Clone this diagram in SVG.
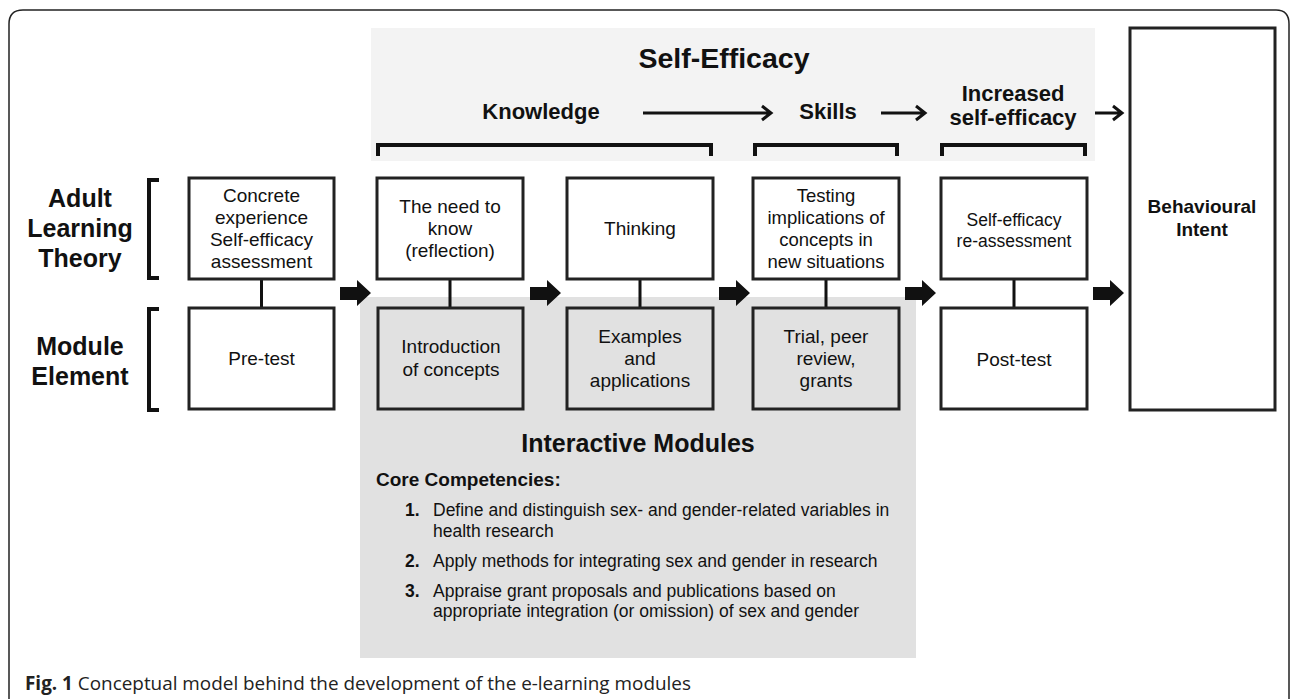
<svg xmlns="http://www.w3.org/2000/svg" width="1290" height="699" viewBox="0 0 1290 699">
<style>
text{font-family:"Liberation Sans",Arial,sans-serif;fill:#111}
.b{font-weight:bold}
.m{text-anchor:middle}
.box{stroke:#222;stroke-width:3;fill:#fff}
.gbox{stroke:#222;stroke-width:3;fill:#e1e1e1}
.br{fill:none;stroke:#111;stroke-width:4}
.ln{fill:none;stroke:#111;stroke-width:3}
.blk{fill:#111}
.t19{font-size:19px}
.h{font-size:22px}
</style>
<rect x="0" y="0" width="1290" height="699" fill="#fff"/>
<path d="M9,699 V24 Q9,10 23,10 H1276 Q1289,10 1289,24 V699" fill="none" stroke="#222" stroke-width="1.5"/>
<rect x="371" y="28" width="724" height="133" fill="#f3f3f3"/>
<rect x="360" y="297" width="556" height="361" fill="#e1e1e1"/>

<g id="header">
<text x="724" y="68" class="b m" font-size="28.5">Self-Efficacy</text>
<text x="541" y="119" class="b m h">Knowledge</text>
<text x="828" y="119" class="b m h">Skills</text>
<text x="1013" y="101" class="b m h">Increased</text>
<text x="1013" y="125" class="b m h">self-efficacy</text>
<path class="br" d="M378,156 V145 H711 V156"/>
<path class="br" d="M755,156 V145 H897 V156"/>
<path class="br" d="M942,156 V145 H1085 V156"/>
</g>

<g id="row-labels">
<text x="80" y="207" class="b m" font-size="25">Adult</text>
<text x="80" y="237" class="b m" font-size="25">Learning</text>
<text x="80" y="267" class="b m" font-size="25">Theory</text>
<text x="80" y="355" class="b m" font-size="25">Module</text>
<text x="80" y="385" class="b m" font-size="25">Element</text>
<path class="br" d="M159,180 H149 V278 H159"/>
<path class="br" d="M159,309 H149 V410 H159"/>
</g>

<g id="connectors">
<path class="ln" d="M643,113 H770 M762,106 L771,113 L762,120"/>
<path class="ln" d="M881,113 H924 M916,106 L925,113 L916,120"/>
<path class="ln" d="M1095,113 H1121 M1113,106 L1122,113 L1113,120"/>
<path class="ln" d="M261.5,279 V308 M450,279 V308 M640,279 V308 M826,279 V308 M1014,279 V308" stroke-width="2.5"/>
<path class="blk" d="M340,287 H357 V280 L371,293 L357,306 V300 H340 Z"/>
<path class="blk" d="M530,287 H547 V280 L561,293 L547,306 V300 H530 Z"/>
<path class="blk" d="M719,287 H736 V280 L750,293 L736,306 V300 H719 Z"/>
<path class="blk" d="M905,287 H922 V280 L936,293 L922,306 V300 H905 Z"/>
<path class="blk" d="M1093,287 H1110 V280 L1124,293 L1110,306 V300 H1093 Z"/>
</g>

<g id="n-concrete">
<rect class="box" x="189" y="178" width="145" height="101"/>
<text class="m t19" x="261.5" y="202">Concrete</text>
<text class="m t19" x="261.5" y="224">experience</text>
<text class="m t19" x="261.5" y="246">Self-efficacy</text>
<text class="m t19" x="261.5" y="268">assessment</text>
</g>
<g id="n-need">
<rect class="box" x="377" y="178" width="146" height="101"/>
<text class="m t19" x="450" y="213">The need to</text>
<text class="m t19" x="450" y="235">know</text>
<text class="m t19" x="450" y="257">(reflection)</text>
</g>
<g id="n-thinking">
<rect class="box" x="567" y="178" width="146" height="101"/>
<text class="m t19" x="640" y="235">Thinking</text>
</g>
<g id="n-testing">
<rect class="box" x="753" y="178" width="146" height="101"/>
<text class="m" font-size="18.5" x="826" y="202">Testing</text>
<text class="m" font-size="18.5" x="826" y="224">implications of</text>
<text class="m" font-size="18.5" x="826" y="246">concepts in</text>
<text class="m" font-size="18.5" x="826" y="268">new situations</text>
</g>
<g id="n-reassess">
<rect class="box" x="941" y="178" width="146" height="101"/>
<text class="m" font-size="17.5" x="1014" y="226">Self-efficacy</text>
<text class="m" font-size="17.5" x="1014" y="247">re-assessment</text>
</g>
<g id="n-behavioural">
<rect class="box" x="1130" y="28" width="145" height="382"/>
<text class="b m" font-size="19" x="1202" y="213">Behavioural</text>
<text class="b m" font-size="19" x="1202" y="236">Intent</text>
</g>

<g id="n-pretest">
<rect class="box" x="189" y="308" width="145" height="101"/>
<text class="m t19" x="261.5" y="365">Pre-test</text>
</g>
<g id="n-intro">
<rect class="gbox" x="378" y="308" width="145" height="101"/>
<text class="m t19" x="451" y="353">Introduction</text>
<text class="m t19" x="451" y="376">of concepts</text>
</g>
<g id="n-examples">
<rect class="gbox" x="567" y="308" width="146" height="101"/>
<text class="m t19" x="640" y="343">Examples</text>
<text class="m t19" x="640" y="365">and</text>
<text class="m t19" x="640" y="387">applications</text>
</g>
<g id="n-trial">
<rect class="gbox" x="753" y="308" width="146" height="101"/>
<text class="m t19" x="826" y="343">Trial, peer</text>
<text class="m t19" x="826" y="365">review,</text>
<text class="m t19" x="826" y="387">grants</text>
</g>
<g id="n-posttest">
<rect class="box" x="941" y="308" width="146" height="101"/>
<text class="m t19" x="1014" y="366">Post-test</text>
</g>

<g id="interactive-modules">
<text class="b m" font-size="25" x="638" y="452">Interactive Modules</text>
<text class="b" font-size="19" x="376" y="486">Core Competencies:</text>
<g font-size="17.5">
<text class="b" x="405" y="516">1.</text>
<text x="433" y="516">Define and distinguish sex- and gender-related variables in</text>
<text x="433" y="537">health research</text>
<text class="b" x="405" y="567">2.</text>
<text x="433" y="567">Apply methods for integrating sex and gender in research</text>
<text class="b" x="405" y="597">3.</text>
<text x="433" y="597">Appraise grant proposals and publications based on</text>
<text x="433" y="617">appropriate integration (or omission) of sex and gender</text>
</g>
</g>

<text x="25" y="690" font-size="18.9" style="font-family:'Open Sans','Noto Sans',sans-serif;fill:#222"><tspan font-weight="bold">Fig. 1</tspan> Conceptual model behind the development of the e-learning modules</text>
</svg>
